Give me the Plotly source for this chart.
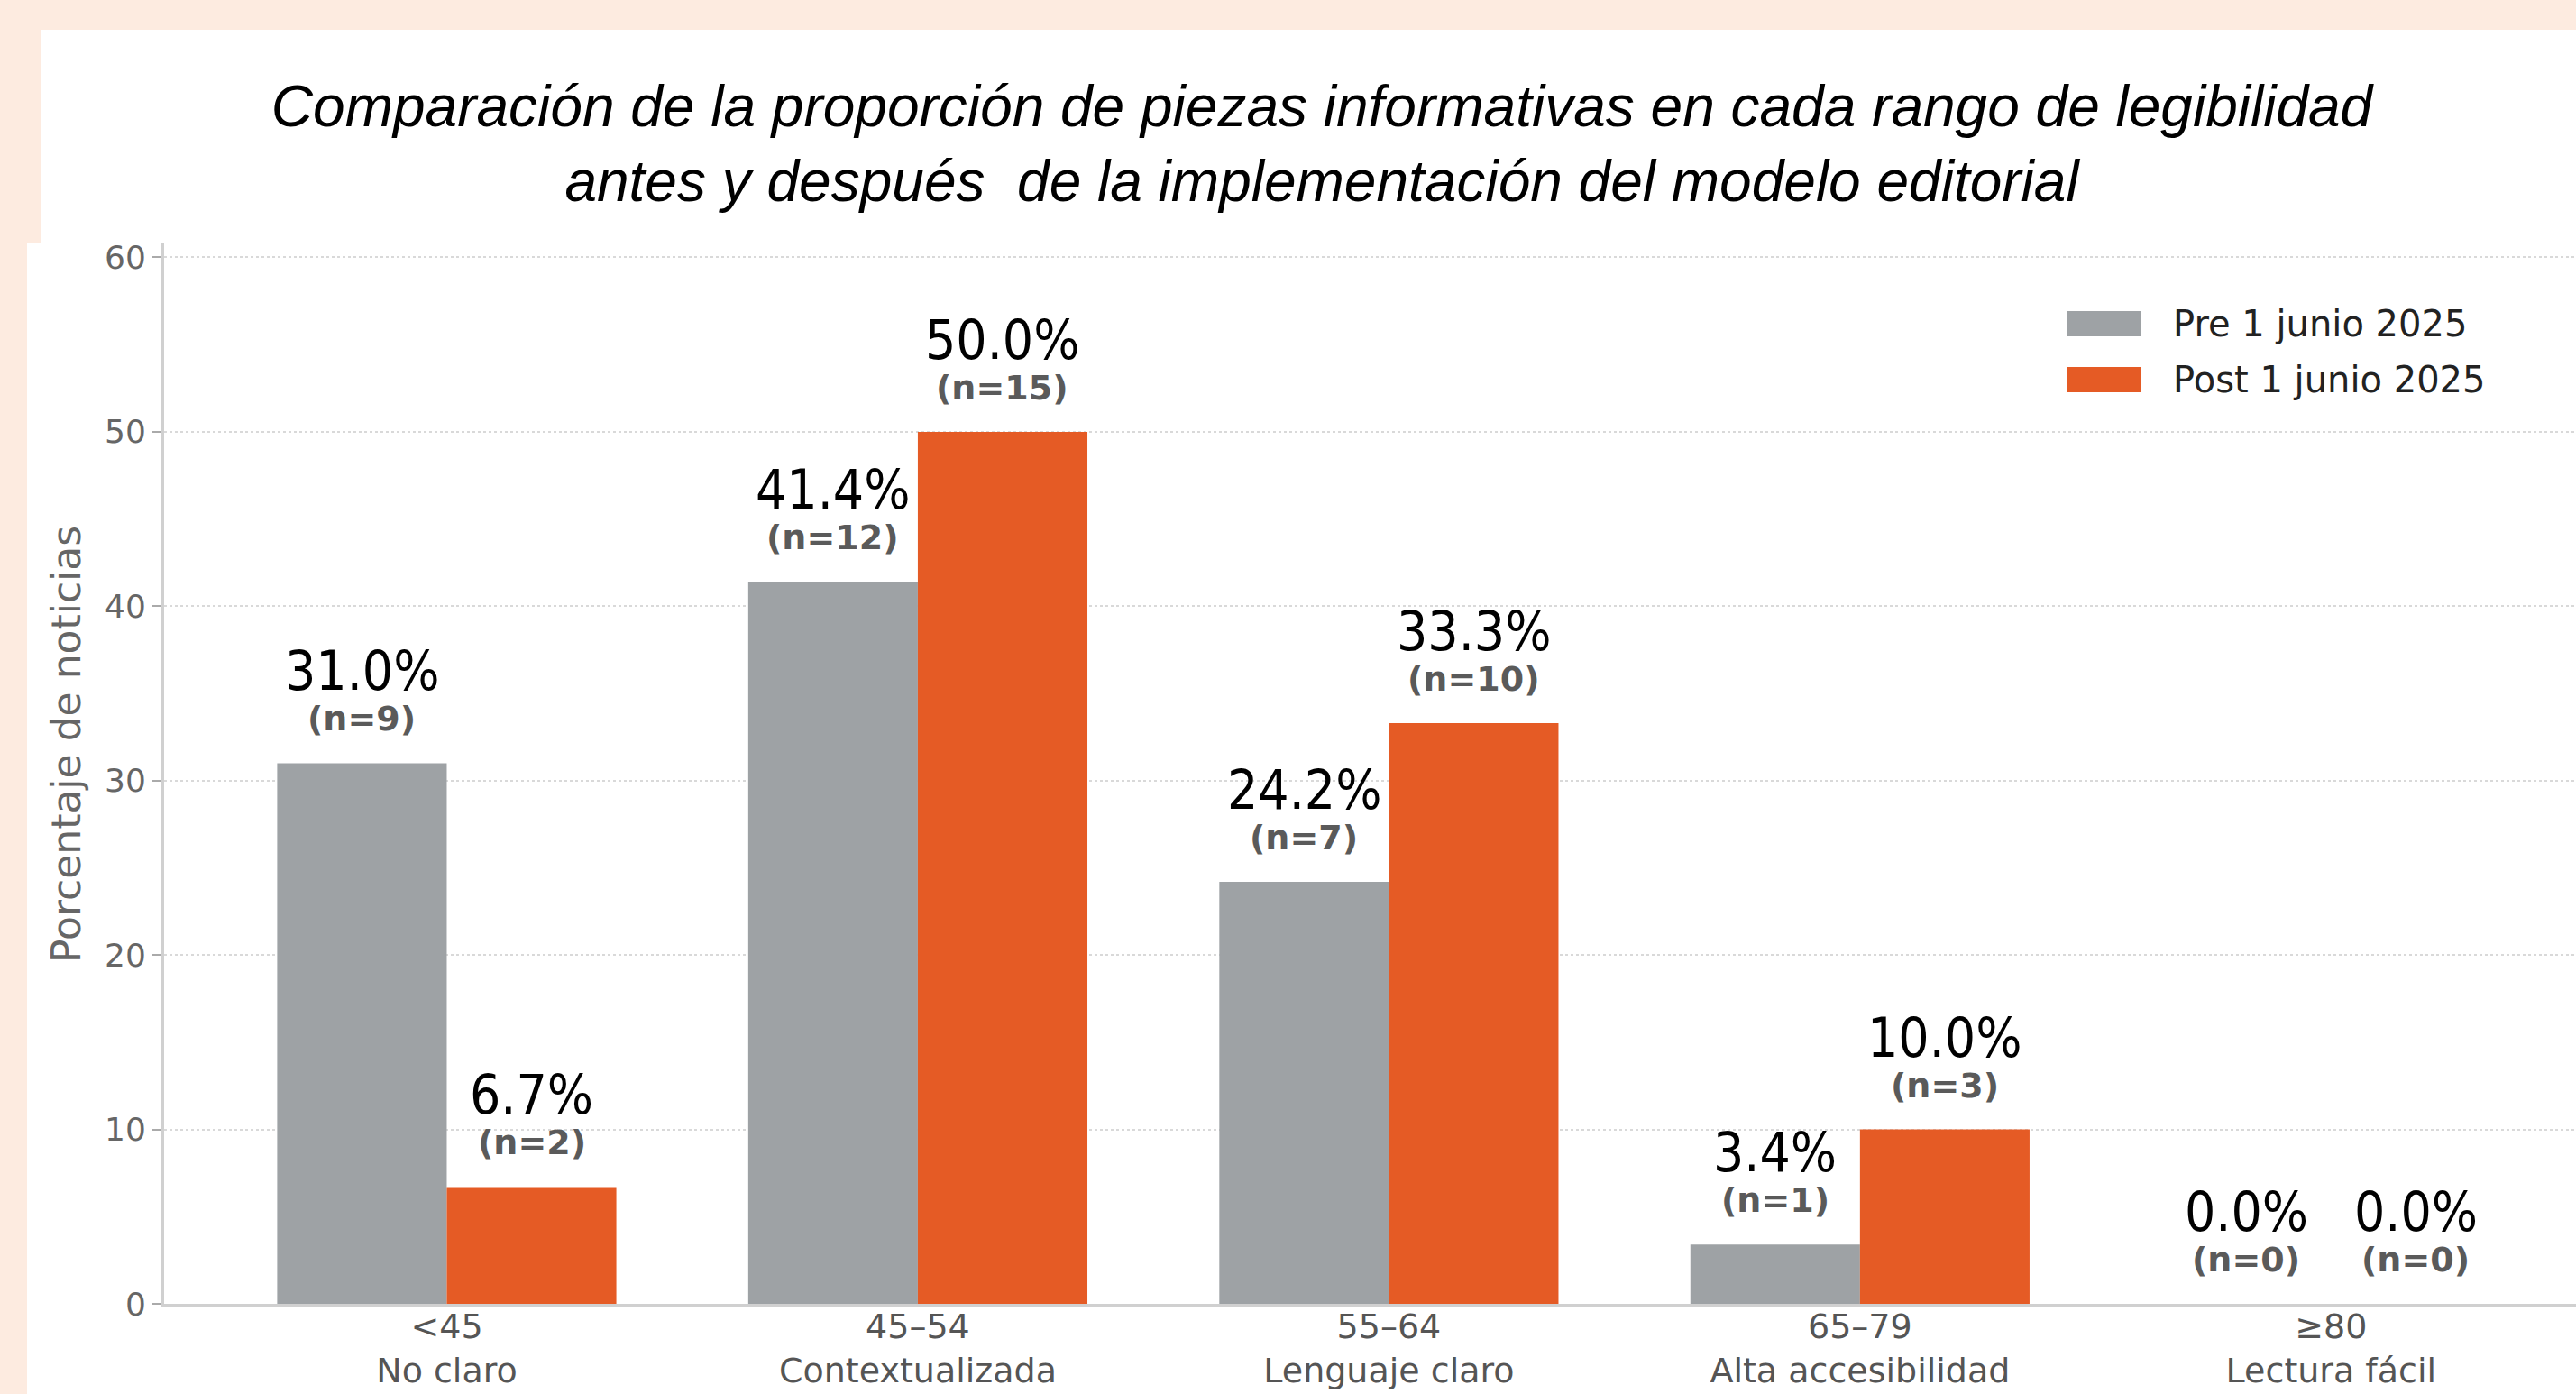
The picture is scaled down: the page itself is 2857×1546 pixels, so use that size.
import plotly.graph_objects as go

# ── data ─────────────────────────────────────────────
categories = ["<45<br>No claro", "45–54<br>Contextualizada", "55–64<br>Lenguaje claro",
              "65–79<br>Alta accesibilidad", "≥80<br>Lectura fácil"]
pre_pct = [31.0, 41.4, 24.2, 3.4, 0.0]
post_pct = [6.7, 50.0, 33.3, 10.0, 0.0]
pre_n = [9, 12, 7, 1, 0]
post_n = [2, 15, 10, 3, 0]
series_names = ["Pre 1 junio 2025", "Post 1 junio 2025"]
y_ticks = [0, 10, 20, 30, 40, 50, 60]

GRAY = "#9ea2a5"
ORANGE = "#e55b25"
PEACH = "#fdebe0"

W, H = 2857, 1546
L, R, T, B = 182, 0, 270, 100
PW, PH = W - L - R, H - T - B


def px_x(p):  # pixel -> paper x
    return (p - L) / PW


def px_y(p):  # pixel -> paper y
    return (H - B - p) / PH


fig = go.Figure()
fig.add_trace(go.Bar(x=categories, y=pre_pct, name=series_names[0], marker_color=GRAY,
                     marker_line_width=0))
fig.add_trace(go.Bar(x=categories, y=post_pct, name=series_names[1], marker_color=ORANGE,
                     marker_line_width=0))

# value labels above each bar
half = 0.72 / 4
for vals, ns, off in [(pre_pct, pre_n, -half), (post_pct, post_n, half)]:
    for i, (v, n) in enumerate(zip(vals, ns)):
        fig.add_annotation(x=i + off, y=v, xref="x", yref="y", text=f"{v:.1f}%",
                           showarrow=False, yanchor="middle", yshift=102,
                           font=dict(family="Liberation Sans Narrow, DejaVu Sans Condensed, sans-serif",
                                     size=60, color="#000000"))
        fig.add_annotation(x=i + off, y=v, xref="x", yref="y", text=f"<b>(n={n})</b>",
                           showarrow=False, yanchor="middle", yshift=49,
                           font=dict(family="DejaVu Sans, sans-serif", size=38, color="#5a5a5a"))

# white panels over the peach page
shapes = [
    dict(type="rect", xref="paper", yref="paper", x0=px_x(45), x1=px_x(W + 5),
         y0=px_y(271), y1=px_y(33), fillcolor="white", line_width=0, layer="below"),
    dict(type="rect", xref="paper", yref="paper", x0=px_x(30), x1=px_x(W + 5),
         y0=px_y(H + 5), y1=px_y(270), fillcolor="white", line_width=0, layer="below"),
]

# legend drawn by hand (big rectangular swatches)
for name, col, yc in [(series_names[0], GRAY, 359), (series_names[1], ORANGE, 421)]:
    shapes.append(dict(type="rect", xref="paper", yref="paper", x0=px_x(2292), x1=px_x(2374),
                       y0=px_y(yc + 14), y1=px_y(yc - 14), fillcolor=col, line_width=0))
    fig.add_annotation(x=px_x(2408), y=px_y(yc), xref="paper", yref="paper", text=name,
                       showarrow=False, xanchor="left", yanchor="middle",
                       font=dict(family="DejaVu Sans, sans-serif", size=40, color="#222222"))

# y axis title placed by hand (sits above the plot centre in the reference)
fig.add_annotation(x=px_x(73), y=px_y(826), xref="paper", yref="paper",
                   text="Porcentaje de noticias", textangle=-90, showarrow=False,
                   xanchor="center", yanchor="middle",
                   font=dict(family="DejaVu Sans, sans-serif", size=44, color="#666666"))

fig.update_layout(
    width=W, height=H,
    margin=dict(l=L, r=R, t=T, b=B, autoexpand=False),
    paper_bgcolor=PEACH,
    plot_bgcolor="white",
    barmode="group", bargap=0.28, bargroupgap=0,
    showlegend=False,
    shapes=shapes,
    title=dict(
        text="<i>Comparación de la proporción de piezas informativas en cada rango de legibilidad</i>"
             "<br><i>antes y después  de la implementación del modelo editorial</i>",
        x=1466 / W, xref="container", xanchor="center",
        y=1 - 140 / H, yref="container", yanchor="middle",
        font=dict(family="Liberation Sans, Arial, sans-serif", size=64, color="#000000"),
    ),
    xaxis=dict(
        range=[-0.6, 4.52], showgrid=False,
        showline=True, linecolor="#d0d0d0", linewidth=3,
        ticks="", ticklabelstandoff=-11,
        tickfont=dict(family="DejaVu Sans, sans-serif", size=38, color="#555555"),
    ),
    yaxis=dict(
        range=[0, 60.8], tickvals=y_ticks,
        showgrid=True, gridcolor="#d9d9d9", griddash="dot", gridwidth=2,
        zeroline=False,
        showline=True, linecolor="#d0d0d0", linewidth=3,
        ticks="outside", ticklen=10, tickwidth=2, tickcolor="#aaaaaa",
        tickfont=dict(family="DejaVu Sans, sans-serif", size=36, color="#666666"),
    ),
)

fig.write_html("out.html", config={"displayModeBar": False},
               post_script="document.body.style.margin='0';"
                           "document.body.style.background='" + PEACH + "';")
